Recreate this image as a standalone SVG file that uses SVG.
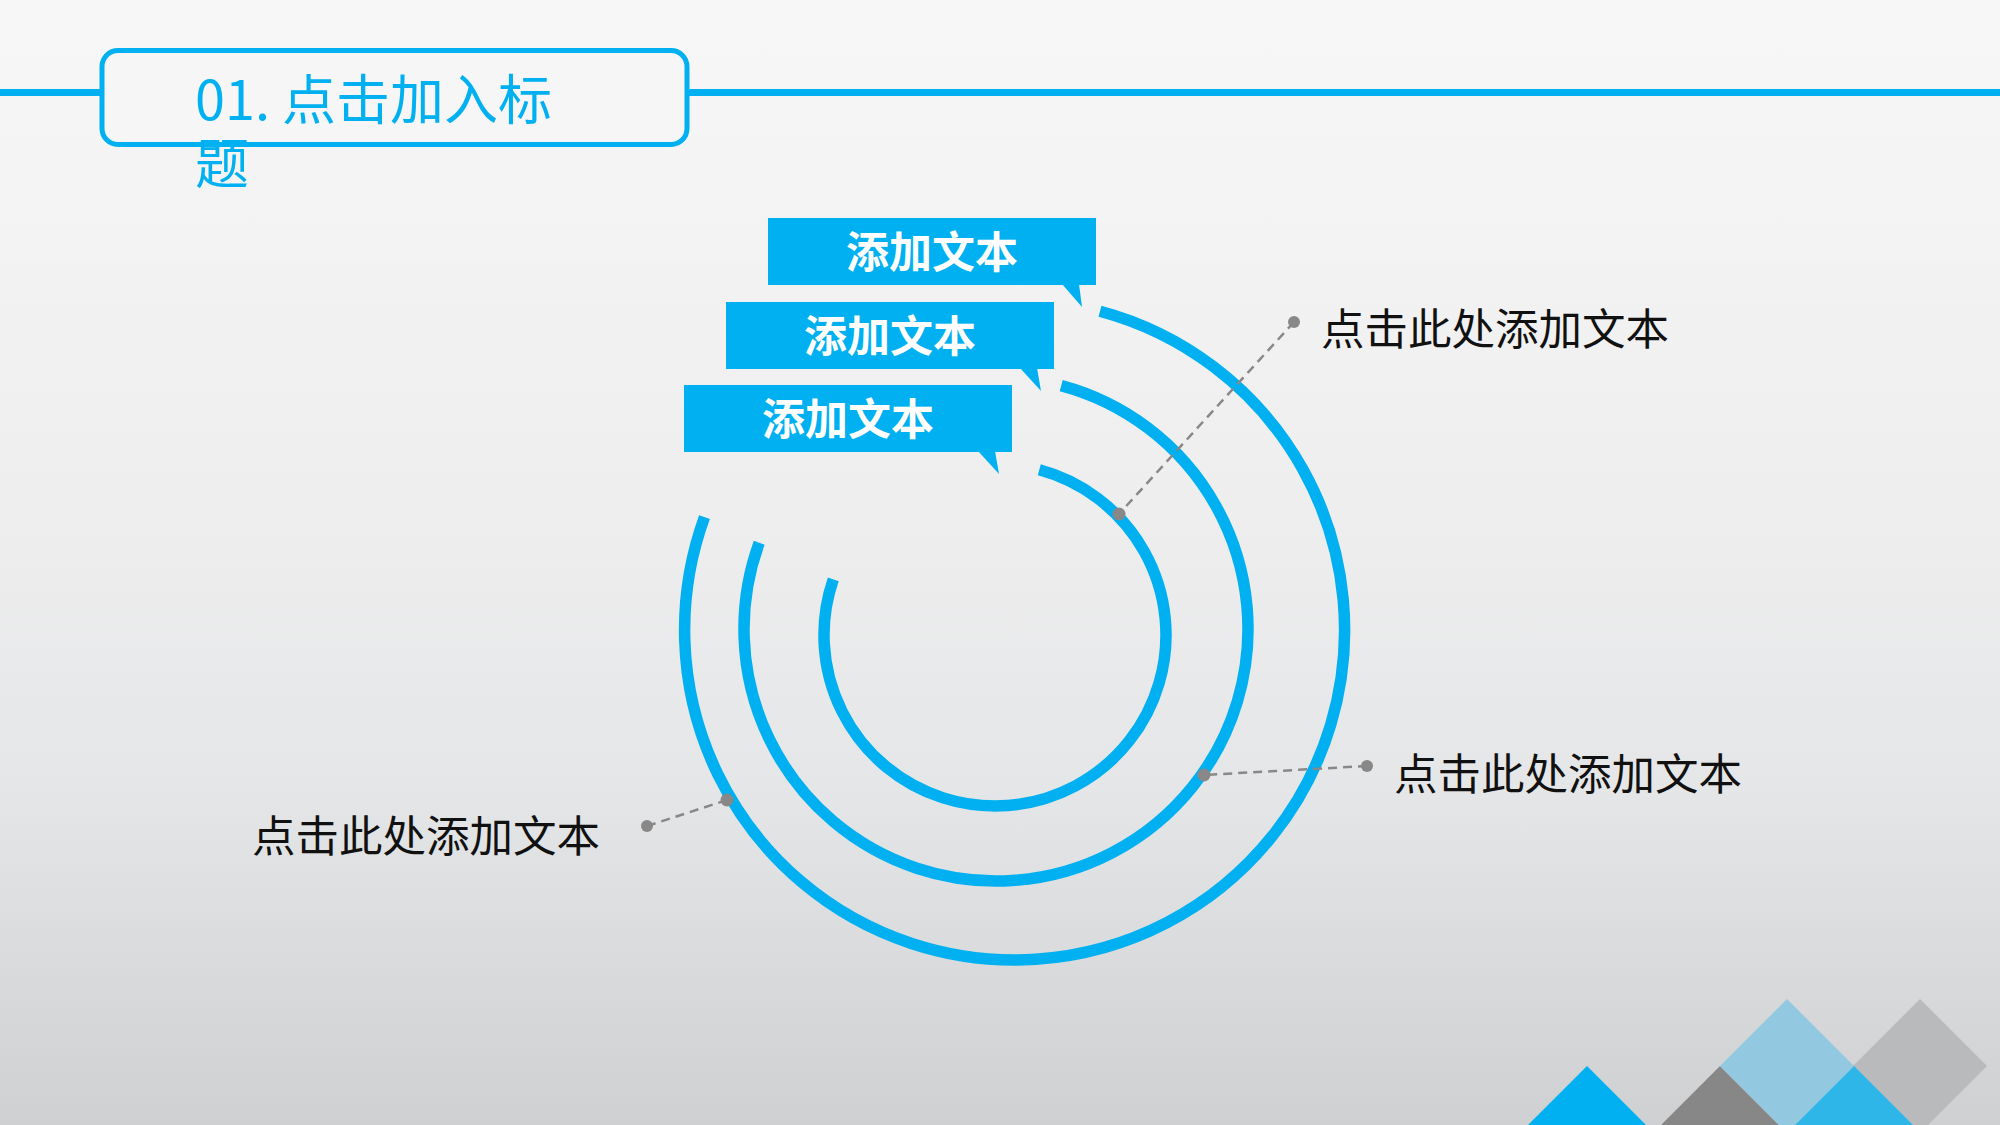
<svg xmlns="http://www.w3.org/2000/svg" width="2000" height="1125" viewBox="0 0 2000 1125">
  <defs>
    <linearGradient id="bg" x1="0" y1="0" x2="0" y2="1">
      <stop offset="0" stop-color="#f7f7f7"/>
      <stop offset="0.45" stop-color="#eeeeef"/>
      <stop offset="0.7" stop-color="#e5e6e7"/>
      <stop offset="1" stop-color="#cfd0d2"/>
    </linearGradient>
  </defs>
  <style>
    .ring { fill: none; stroke: #00b0f0; stroke-width: 11.5; stroke-linecap: butt; }
    .lead { fill: none; stroke: #888888; stroke-width: 2.5; stroke-dasharray: 9 6; }
    .dot { fill: #888888; }
    .box { fill: #00b0f0; }
    .boxtxt { font-family: "Noto Sans CJK SC", "Microsoft YaHei", sans-serif; font-size: 43px; font-weight: bold; fill: #ffffff; text-anchor: middle; }
    .label { font-family: "Noto Sans CJK SC", sans-serif; font-size: 43.5px; fill: #111111; }
    .title { font-family: "Noto Sans CJK SC", sans-serif; font-size: 54px; fill: #00b0f0; }
  </style>
  <rect x="0" y="0" width="2000" height="1125" fill="url(#bg)"/>

  <g id="header">
    <line x1="0" y1="92.5" x2="2000" y2="92.5" stroke="#00b0f0" stroke-width="7"/>
    <rect x="102" y="50.5" width="585" height="94" rx="16" ry="16" fill="#f6f6f6" stroke="#00b0f0" stroke-width="5"/>
    <text class="title"><tspan x="195" y="120">01. 点击加入标</tspan><tspan x="195" y="184">题</tspan></text>
  </g>

  <g id="rings">
    <path id="ring-inner" class="ring" d="M 1039.3 469.8 A 171 171 0 1 1 833.3 579.3"/>
    <path id="ring-middle" class="ring" d="M 1061.2 385.6 A 252 252 0 1 1 759.2 542.8"/>
    <path id="ring-outer" class="ring" d="M 1100 311.2 A 330 330 0 1 1 704.5 517.1"/>
  </g>

  <g id="callout-1">
    <rect class="box" x="768" y="218" width="328" height="67"/>
    <polygon class="box" points="1062,284 1082,307 1079,284"/>
    <text class="boxtxt" x="932" y="268">添加文本</text>
  </g>
  <g id="callout-2">
    <rect class="box" x="726" y="302" width="328" height="67"/>
    <polygon class="box" points="1020,368 1041,391 1037,368"/>
    <text class="boxtxt" x="890" y="352">添加文本</text>
  </g>
  <g id="callout-3">
    <rect class="box" x="684" y="385" width="328" height="67"/>
    <polygon class="box" points="978,451 999,474 995,451"/>
    <text class="boxtxt" x="848" y="435">添加文本</text>
  </g>

  <g id="connectors">
    <line class="lead" x1="1294" y1="322" x2="1119" y2="514"/>
    <line class="lead" x1="1367" y1="766" x2="1204" y2="775"/>
    <line class="lead" x1="647" y1="826" x2="727" y2="800"/>
    <circle class="dot" cx="1294" cy="322" r="6"/>
    <circle class="dot" cx="1119" cy="514" r="6.5"/>
    <circle class="dot" cx="1367" cy="766" r="6"/>
    <circle class="dot" cx="1204" cy="775" r="6.5"/>
    <circle class="dot" cx="647" cy="826" r="6"/>
    <circle class="dot" cx="727" cy="800" r="6.5"/>
  </g>

  <g id="label-1"><text class="label" x="1321" y="345">点击此处添加文本</text></g>
  <g id="label-2"><text class="label" x="1394" y="790">点击此处添加文本</text></g>
  <g id="label-3"><text class="label" x="252" y="852">点击此处添加文本</text></g>

  <g id="decor">
    <polygon fill="#00b0f0" points="1587,1066 1528,1125 1646,1125"/>
    <polygon fill="#878787" points="1720,1066 1661,1125 1779,1125"/>
    <polygon fill="#93c9e0" points="1787,999 1854,1066 1787,1133 1720,1066"/>
    <polygon fill="#b9babb" points="1920,999 1987,1066 1920,1133 1853,1066"/>
    <polygon fill="#2eb6e9" points="1854,1066 1795,1125 1913,1125"/>
  </g>
</svg>
